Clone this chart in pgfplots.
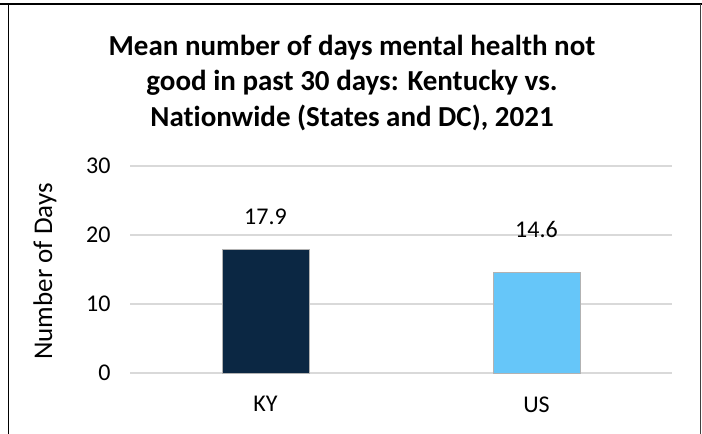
\documentclass[border=0pt]{standalone}
\usepackage{fontspec}
\setmainfont{Carlito}[Ligatures=NoCommon]
\usepackage{pgfplots}
\pgfplotsset{compat=1.18}
\definecolor{kynavy}{HTML}{0B2743}
\definecolor{usblue}{HTML}{66C6F9}
\definecolor{gridgray}{HTML}{D9D9D9}

\begin{document}
\begin{tikzpicture}
\useasboundingbox (0,0) rectangle (702bp,434bp);
% chart frame (no bottom edge, as in the source)
\draw[line width=2bp] (0,429.5bp) -- (702bp,429.5bp);
\draw[line width=1.3bp] (8.5bp,0) -- (8.5bp,429.5bp);
\draw[line width=1bp, black!75] (700bp,0) -- (700bp,429.5bp);

\node[align=center, font=\fontsize{29bp}{35.5bp}\selectfont\bfseries]
  at (352bp,351bp) {Mean number of days mental health not\\good in past 30 days: Kentucky vs.\\Nationwide (States and DC), 2021};

\begin{axis}[
  at={(130bp,61bp)}, anchor=south west,
  scale only axis, width=542bp, height=207bp,
  xmin=-0.5, xmax=1.5, ymin=0, ymax=30,
  xtick={0,1}, xticklabels={KY,US},
  ytick={0,10,20,30},
  axis line style={draw=none},
  tick style={draw=none},
  ymajorgrids,
  major grid style={gridgray, line width=1.3bp},
  tick label style={font=\fontsize{24bp}{28bp}\selectfont},
  /pgf/number format/assume math mode=true,
  yticklabel style={xshift=-16bp},
  xticklabel style={yshift=-20bp},
  clip=false,
]
\addplot[ybar, bar width=87bp, bar shift=0pt, fill=kynavy, draw=gray!60] coordinates {(0,17.9)};
\addplot[ybar, bar width=87bp, bar shift=0pt, fill=usblue, draw=gray!60] coordinates {(1,14.6)};
% data labels, placed where the source shows them
\addplot[only marks, mark=none, nodes near coords, point meta=explicit symbolic,
  every node near coord/.style={anchor=center, font=\fontsize{24bp}{28bp}\selectfont}]
  coordinates {(0,22.6)[17.9] (1,20.8)[14.6]};
\end{axis}

\node[rotate=90, font=\fontsize{27bp}{31bp}\selectfont] at (45bp,162.5bp) {Number of Days};
\end{tikzpicture}
\end{document}
